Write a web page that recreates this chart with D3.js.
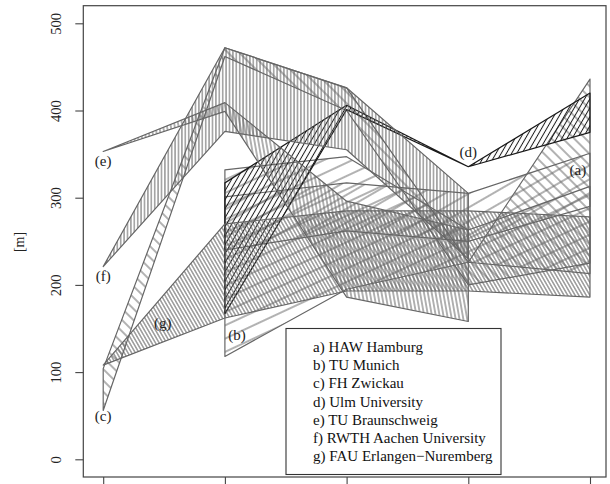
<!DOCTYPE html>
<html><head><meta charset="utf-8">
<script src="https://cdn.jsdelivr.net/npm/d3@7"></script>
<style>body{margin:0;background:#fff}svg{display:block}text{font-family:"Liberation Serif","Times New Roman",serif}</style>
</head><body><svg id="c" width="610" height="484"></svg>
<script>
const positions = [1, 2, 3, 4, 5];
const yTicks = [0, 100, 200, 300, 400, 500];
const names = ["a) HAW Hamburg","b) TU Munich","c) FH Zwickau","d) Ulm University","e) TU Braunschweig","f) RWTH Aachen University","g) FAU Erlangen\u2212Nuremberg"];
const tags = ["(a)","(b)","(c)","(d)","(e)","(f)","(g)"];
const upperA = [null, 301, 317, 305, 351];
const lowerA = [null, 240, 262, 250, 290];
const upperB = [null, 332, 347, 263, 313];
const lowerB = [null, 118, 195, 226, 213];
const upperC = [104, 472, 426, 226, 436];
const lowerC = [56, 462, 400, 200, 225];
const upperD = [null, 317, 406, 335.5, 420];
const lowerD = [null, 167, 401, 335.5, 375];
const upperE = [353, 409, 296, 263, null];
const lowerE = [353, 399, 186, 158, null];
const upperF = [221, 472, 426, 305, null];
const lowerF = [221, 376, 355, 230, null];
const upperG = [108, 270, 285, 285, 278];
const lowerG = [108, 162, 193, 193, 186];
const tagX = [4.9, 2.1, 1, 4, 1, 1, 1.49];
const tagY = [330, 141, 48, 351, 340, 208, 155];

const uppers = [upperA, upperB, upperC, upperD, upperE, upperF, upperG];
const lowers = [lowerA, lowerB, lowerC, lowerD, lowerE, lowerF, lowerG];
// hatch angle (R convention, degrees), gap in px, colour
const hatch = [
  {angle: 30, gap: 12, col: "#666"},
  {angle: 25, gap: 12, col: "#666"},
  {angle: -45, gap: 8, col: "#666"},
  {angle: 60, gap: 4.5, col: "#1a1a1a"},
  {angle: 100, gap: 3.8, col: "#666"},
  {angle: 90, gap: 3.4, col: "#666"},
  {angle: -60, gap: 3.2, col: "#666"}
];

const svg = d3.select("#c");
const x = d3.scaleLinear().domain([1, 5]).range([103.2, 590]);
const y = d3.scaleLinear().domain([0, 500]).range([459.3, 23.3]);
const L = 83.3, R = 606, T = 5.7, B = 477;

const defs = svg.append("defs");
hatch.forEach((h, i) => {
  const p = defs.append("pattern").attr("id", "h" + i)
    .attr("patternUnits", "userSpaceOnUse")
    .attr("width", h.gap).attr("height", 10)
    .attr("patternTransform", `rotate(${90 - h.angle})`);
  p.append("line").attr("x1", h.gap / 2).attr("x2", h.gap / 2).attr("y1", -1).attr("y2", 11)
    .attr("stroke", h.col).attr("stroke-width", 1);
});

defs.append("clipPath").attr("id", "plotclip")
  .append("rect").attr("x", L).attr("y", T).attr("width", R - L).attr("height", B - T);

const g = svg.append("g").attr("clip-path", "url(#plotclip)");
uppers.forEach((up, i) => {
  const pts = positions.map((p, k) => ({p, u: up[k], l: lowers[i][k]})).filter(d => d.u != null);
  const ring = pts.map(d => [x(d.p), y(d.u)]).concat(pts.slice().reverse().map(d => [x(d.p), y(d.l)]));
  g.append("path").attr("d", d3.line()(ring) + "Z")
    .attr("fill", `url(#h${i})`)
    .attr("stroke", hatch[i].col).attr("stroke-width", 1.2)
    .attr("stroke-linejoin", "round");
});

tags.forEach((t, i) => {
  svg.append("text").attr("x", x(tagX[i])).attr("y", y(tagY[i]))
    .attr("text-anchor", "middle").attr("dominant-baseline", "middle")
    .attr("font-size", 15).attr("fill", "#222").text(t);
});

svg.append("rect").attr("x", L).attr("y", T).attr("width", R - L).attr("height", B - T)
  .attr("fill", "none").attr("stroke", "#444").attr("stroke-width", 1.2);

const yAxis = svg.append("g").attr("transform", `translate(${L},0)`)
  .call(d3.axisLeft(y).tickValues(yTicks).tickSize(8).tickFormat(d3.format("d")));
yAxis.select(".domain").remove();
yAxis.selectAll("line").attr("stroke", "#444").attr("stroke-width", 1.1);
yAxis.selectAll(".tick text")
  .attr("transform", "translate(-26,0) rotate(-90)").attr("x", 0).attr("y", 0).attr("dy", null)
  .attr("text-anchor", "middle").attr("dominant-baseline", "middle")
  .attr("font-size", 14.5).attr("fill", "#222");

const xAxis = svg.append("g").attr("transform", `translate(0,${B})`)
  .call(d3.axisBottom(x).tickValues(positions).tickSize(8).tickFormat(""));
xAxis.select(".domain").remove();
xAxis.selectAll("line").attr("stroke", "#444").attr("stroke-width", 1.1);

svg.append("text").attr("transform", "translate(21,242) rotate(-90)")
  .attr("text-anchor", "middle").attr("dominant-baseline", "middle")
  .attr("font-size", 14).attr("fill", "#222").text("[m]");

const lg = svg.append("g");
lg.append("rect").attr("x", 286).attr("y", 328.5).attr("width", 215).attr("height", 146)
  .attr("fill", "#fff").attr("stroke", "#333").attr("stroke-width", 1.1);
names.forEach((n, i) => {
  lg.append("text").attr("x", 313).attr("y", 348.5 + i * 18.2)
    .attr("dominant-baseline", "middle").attr("font-size", 15).attr("fill", "#111").text(n);
});
</script></body></html>
